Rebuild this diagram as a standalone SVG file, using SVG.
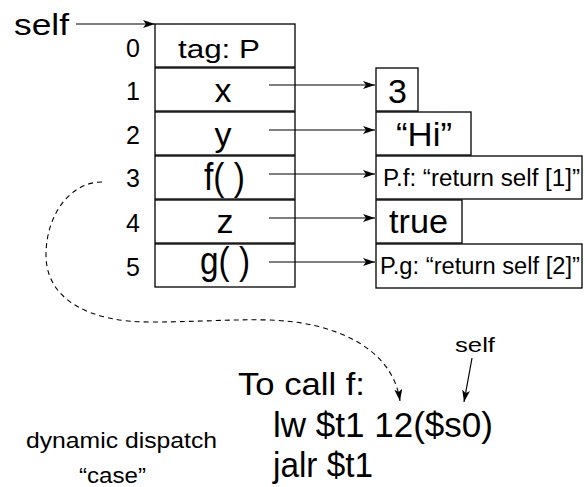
<svg xmlns="http://www.w3.org/2000/svg" width="584" height="487" viewBox="0 0 584 487">
<style>
  text { font-family: "Liberation Sans", Arial, sans-serif; fill: #000; }
  .box { fill: #fff; stroke: #000; stroke-width: 1.3; }
  .idx { font-size: 25px; text-anchor: middle; }
  .fld { font-size: 34px; text-anchor: middle; }
  .val { font-size: 34px; }
  .meth { font-size: 23px; }
  .conn { fill: none; stroke: #000; stroke-width: 1.2; }
  .dash { fill: none; stroke: #000; stroke-width: 1.1; stroke-dasharray: 5 4; }
</style>
<defs>
  <marker id="arr" viewBox="0 0 12 8" refX="12" refY="4" markerWidth="12" markerHeight="8" markerUnits="userSpaceOnUse" orient="auto">
    <path d="M0,0 L12,4 L0,8 L3,4 z" fill="#000"/>
  </marker>
</defs>
<rect width="584" height="487" fill="#fff"/>

<g id="self-label"><text x="14" y="35" font-size="30" textLength="55" lengthAdjust="spacingAndGlyphs">self</text></g>

<g id="object">
  <g id="row0"><rect class="box" x="155" y="24" width="140" height="43"/><text class="idx" x="133" y="57">0</text><text x="178" y="58" font-size="25" textLength="82" lengthAdjust="spacingAndGlyphs">tag: P</text></g>
  <g id="row1"><rect class="box" x="155" y="68" width="140" height="43"/><text class="idx" x="133" y="100">1</text><text class="fld" x="223" y="102">x</text></g>
  <g id="row2"><rect class="box" x="155" y="112" width="140" height="43"/><text class="idx" x="133" y="144">2</text><text class="fld" x="223" y="146">y</text></g>
  <g id="row3"><rect class="box" x="155" y="156" width="140" height="43"/><text class="idx" x="133" y="187">3</text><text x="204" y="190" font-size="38" textLength="41" lengthAdjust="spacingAndGlyphs">f( )</text></g>
  <g id="row4"><rect class="box" x="155" y="200" width="140" height="43"/><text class="idx" x="133" y="232">4</text><text class="fld" x="225" y="233">z</text></g>
  <g id="row5"><rect class="box" x="155" y="244" width="140" height="43"/><text class="idx" x="133" y="276">5</text><text x="200" y="274" font-size="38" textLength="50" lengthAdjust="spacingAndGlyphs">g( )</text></g>
</g>

<g id="val-3"><rect class="box" x="376" y="68" width="42" height="43"/><text class="val" x="388" y="103">3</text></g>
<g id="val-hi"><rect class="box" x="376" y="112" width="95" height="43"/><text class="val" x="396" y="146" textLength="56" lengthAdjust="spacingAndGlyphs">“Hi”</text></g>
<g id="val-pf"><rect class="box" x="376" y="156" width="206" height="43"/><text class="meth" x="383" y="186" textLength="197" lengthAdjust="spacingAndGlyphs">P.f: “return self [1]”</text></g>
<g id="val-true"><rect class="box" x="376" y="200" width="86" height="43"/><text class="val" x="389" y="233" textLength="59" lengthAdjust="spacingAndGlyphs">true</text></g>
<g id="val-pg"><rect class="box" x="376" y="244" width="206" height="44"/><text class="meth" x="380" y="274" textLength="200" lengthAdjust="spacingAndGlyphs">P.g: “return self [2]”</text></g>

<g id="code">
  <text x="238" y="395" font-size="31" textLength="127" lengthAdjust="spacingAndGlyphs">To call f:</text>
  <text x="273" y="437" font-size="35" textLength="220" lengthAdjust="spacingAndGlyphs">lw $t1 12($s0)</text>
  <text x="273" y="477" font-size="35" textLength="100" lengthAdjust="spacingAndGlyphs">jalr $t1</text>
</g>
<g id="self-note"><text x="455" y="352" font-size="21" textLength="40" lengthAdjust="spacingAndGlyphs">self</text></g>
<g id="caption">
  <text x="26" y="448" font-size="22" textLength="191" lengthAdjust="spacingAndGlyphs">dynamic dispatch</text>
  <text x="79" y="483" font-size="22" textLength="67" lengthAdjust="spacingAndGlyphs">“case”</text>
</g>

<g id="connectors">
  <line class="conn" x1="76" y1="24" x2="155" y2="24" marker-end="url(#arr)"/>
  <line class="conn" x1="269" y1="85" x2="375" y2="85" marker-end="url(#arr)"/>
  <line class="conn" x1="269" y1="130" x2="375" y2="130" marker-end="url(#arr)"/>
  <line class="conn" x1="269" y1="174" x2="375" y2="174" marker-end="url(#arr)"/>
  <line class="conn" x1="269" y1="218" x2="375" y2="218" marker-end="url(#arr)"/>
  <line class="conn" x1="269" y1="262" x2="375" y2="262" marker-end="url(#arr)"/>
  <line class="conn" x1="472" y1="358" x2="464" y2="402" marker-end="url(#arr)"/>
  <path class="dash" d="M102,182 C70,182 46,215 46,255 C46,300 90,322 150,322 C200,322 230,319 270,320 C330,322 392,345 400,401" marker-end="url(#arr)"/>
</g>
</svg>
